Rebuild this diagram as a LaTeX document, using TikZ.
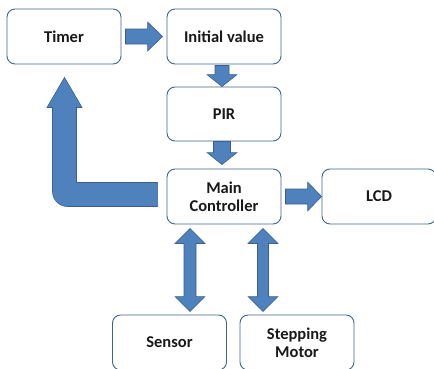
\documentclass[tikz,border=0pt]{standalone}
\usepackage{fontspec}
\setmainfont{Carlito}
\usetikzlibrary{calc}
\definecolor{arrowfill}{RGB}{79,129,189}
\definecolor{arrowline}{RGB}{56,96,146}
\definecolor{boxline}{RGB}{62,100,146}
\tikzset{
  box/.style={draw=boxline, line width=0.9pt, rounded corners=8pt, fill=white,
    minimum width=114pt, minimum height=55pt, align=center, inner sep=0pt,
    font=\fontsize{16.5}{18}\selectfont\bfseries, text=black!90},
  blockarrow/.style={fill=arrowfill, draw=arrowline, line width=0.6pt, line join=miter}
}
% block arrow pointing right: tail, tip, shaft half-width, head half-width, head length
\newcommand\rightblock[5]{%
  \filldraw[blockarrow] let \p1=(#1), \p2=(#2) in
    (\x1,{\y1+#3}) -- ({\x2-#5},{\y1+#3}) -- ({\x2-#5},{\y1+#4}) -- (\x2,\y1)
    -- ({\x2-#5},{\y1-#4}) -- ({\x2-#5},{\y1-#3}) -- (\x1,{\y1-#3}) -- cycle;}
% block arrow pointing down
\newcommand\downblock[5]{%
  \filldraw[blockarrow] let \p1=(#1), \p2=(#2) in
    ({\x1-#3},\y1) -- ({\x1-#3},{\y2+#5}) -- ({\x1-#4},{\y2+#5}) -- (\x1,\y2)
    -- ({\x1+#4},{\y2+#5}) -- ({\x1+#3},{\y2+#5}) -- ({\x1+#3},\y1) -- cycle;}
% two-headed vertical block arrow: upper tip, lower tip
\newcommand\updownblock[5]{%
  \filldraw[blockarrow] let \p1=(#1), \p2=(#2) in
    (\x1,\y1) -- ({\x1+#4},{\y1-#5}) -- ({\x1+#3},{\y1-#5}) -- ({\x1+#3},{\y2+#5})
    -- ({\x1+#4},{\y2+#5}) -- (\x1,\y2) -- ({\x1-#4},{\y2+#5}) -- ({\x1-#3},{\y2+#5})
    -- ({\x1-#3},{\y1-#5}) -- ({\x1-#4},{\y1-#5}) -- cycle;}
% elbow block arrow: goes left from the tail, turns and points up to the tip
\newcommand\elbowblock[5]{%
  \filldraw[blockarrow] let \p1=(#1), \p2=(#2) in
    ({\x2-#3},{\y2-#5}) -- ({\x2-#3},{\y1-#3+15pt})
    arc[start angle=180, end angle=270, radius=15pt]
    -- (\x1,{\y1-#3}) -- (\x1,{\y1+#3}) -- ({\x2+#3},{\y1+#3}) -- ({\x2+#3},{\y2-#5})
    -- ({\x2+#4},{\y2-#5}) -- (\x2,\y2) -- ({\x2-#4},{\y2-#5}) -- cycle;}
\begin{document}
\begin{tikzpicture}[x=1pt, y=-1pt]
  \useasboundingbox (0,0) rectangle (434,368);
  \clip (0,0) rectangle (434,368);

  \node[box] (timer)  at (64,36.5)    {Timer};
  \node[box] (init)   at (224,36.5)   {Initial value};
  \node[box, minimum height=54pt] (pir) at (224,114) {PIR};
  \node[box] (main)   at (224,196.5)  {Main\\Controller};
  \node[box] (lcd)    at (379,196.5)  {LCD};
  \node[box] (sensor) at (169.5,342.5) {Sensor};
  \node[box] (motor)  at (297,342.5)  {Stepping\\Motor};

  \coordinate (a1s) at ($(timer.east)+(4,0)$);
  \coordinate (a1e) at ($(init.west)+(-4,0)$);
  \rightblock{a1s}{a1e}{7.5pt}{14.5pt}{15pt}

  \coordinate (a2s) at ($(init.south)+(-2,1)$);
  \coordinate (a2e) at ($(pir.north)+(-2,0)$);
  \downblock{a2s}{a2e}{7pt}{15pt}{12pt}

  \coordinate (a3s) at ($(pir.south)+(-2,0)$);
  \coordinate (a3e) at ($(main.north)+(-2,-4)$);
  \downblock{a3s}{a3e}{8.5pt}{15pt}{12pt}

  \coordinate (a4s) at ($(main.east)+(4,0)$);
  \coordinate (a4e) at (lcd.west);
  \rightblock{a4s}{a4e}{7.5pt}{14.5pt}{14pt}

  \coordinate (a5s) at ($(main.west)+(-9,-2)$);
  \coordinate (a5e) at ($(timer.south)+(0.5,13)$);
  \elbowblock{a5s}{a5e}{12pt}{17.5pt}{30pt}

  \coordinate (a6t) at ($(main.south)+(-34,4)$);
  \coordinate (a6b) at ($(main.south|-sensor.north)+(-34,-3)$);
  \updownblock{a6t}{a6b}{6pt}{15pt}{15pt}

  \coordinate (a7t) at ($(main.south)+(39,4)$);
  \coordinate (a7b) at ($(main.south|-motor.north)+(39,-3)$);
  \updownblock{a7t}{a7b}{5.5pt}{15pt}{15pt}
\end{tikzpicture}
\end{document}
